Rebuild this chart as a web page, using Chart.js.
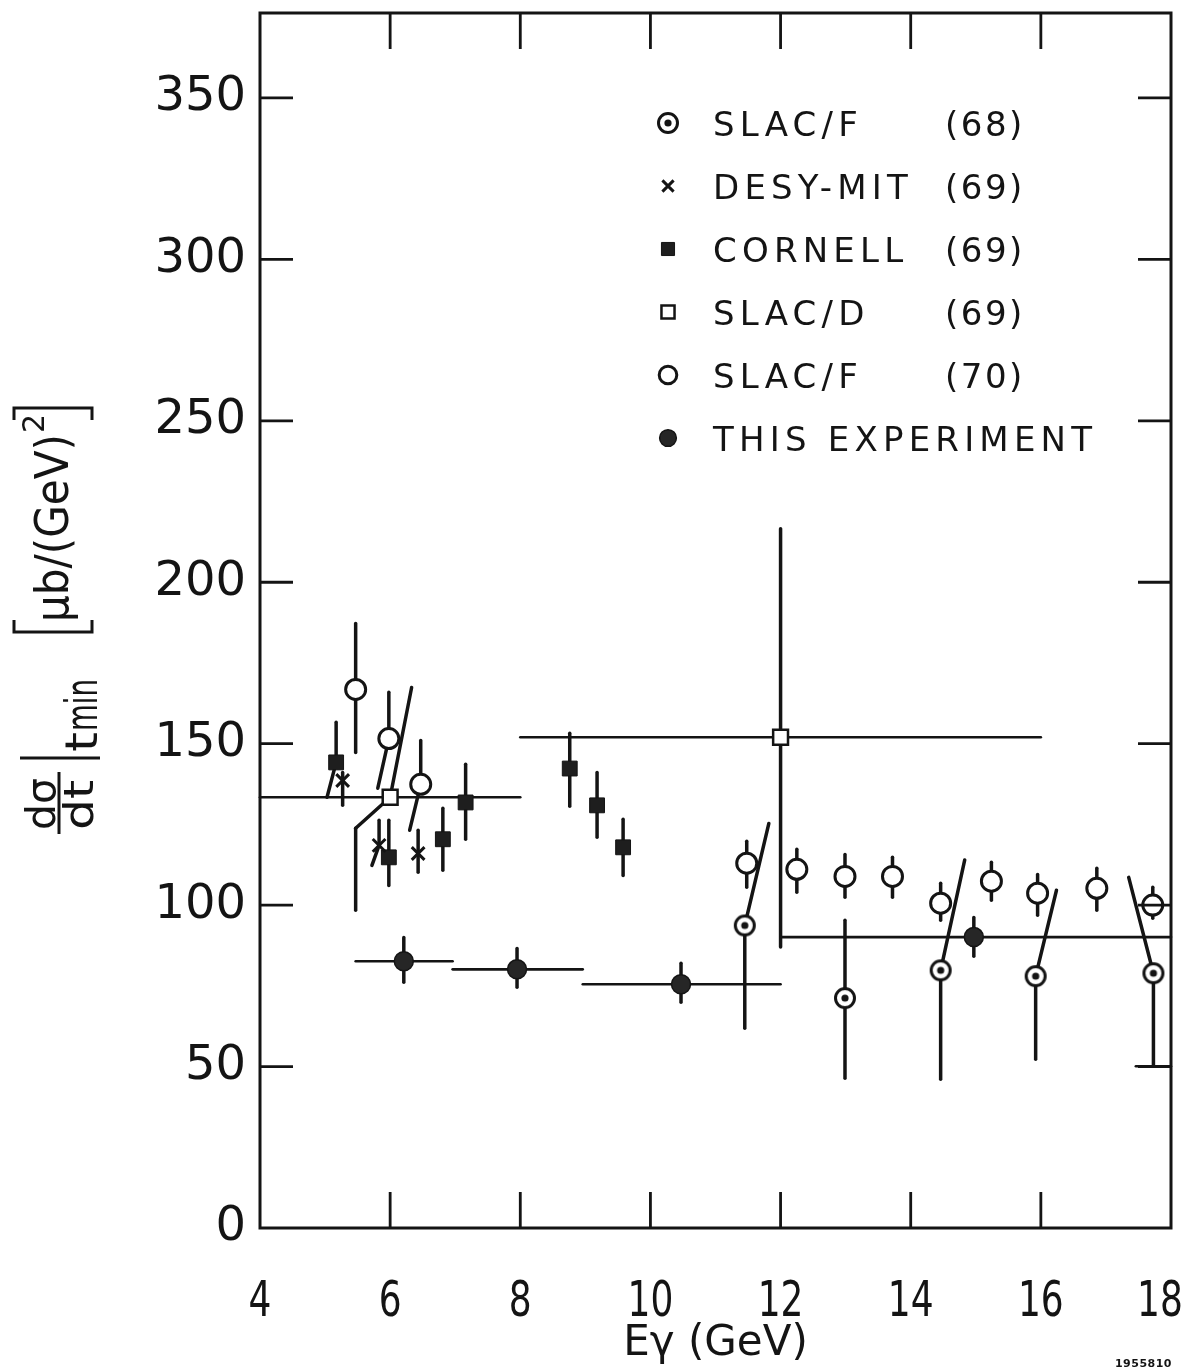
<!DOCTYPE html>
<html>
<head>
<meta charset="utf-8">
<title>dσ/dt at t_min vs Eγ</title>
<script src="https://cdn.jsdelivr.net/npm/chart.js@4.4.1/dist/chart.umd.min.js"></script>
<style>
  html, body { margin: 0; padding: 0; background: #fff; }
  #wrap { width: 1193px; height: 1371px; }
</style>
</head>
<body>
<div id="wrap"><canvas id="c" width="1193" height="1371"></canvas></div>
<script>
// Forward cross section dσ/dt at t_min versus photon energy, several experiments.

const xTicks = [4, 6, 8, 10, 12, 14, 16, 18];
const yTicks = [0, 50, 100, 150, 200, 250, 300, 350];

// SLAC/F (68): upper errors drawn as tilted strokes ending at slacF68HiE
const slacF68E = [11.45, 12.99, 14.46, 15.92, 17.73];
const slacF68V = [93.7, 71.2, 79.8, 78.0, 78.9];
const slacF68Hi = [125.3, 95.3, 114.0, 104.6, 108.6];
const slacF68HiE = [11.82, 12.99, 14.83, 16.24, 17.35];
const slacF68Lo = [61.9, 46.4, 46.1, 52.3, 50.1];
const slacF68CapFrom = [null, null, null, null, 17.46];
const slacF68CapTo = [null, null, null, null, 18.0];

// DESY-MIT (69)
const desyE = [5.27, 5.83, 6.43];
const desyV = [138.6, 118.5, 116.0];
const desyHi = [141.1, 126.3, 123.2];
const desyLo = [130.9, 112.3, 110.2];
const desyLoE = [5.27, 5.72, 6.43];

// CORNELL (69)
const cornellE = [5.17, 5.98, 6.81, 7.16, 8.76, 9.18, 9.58];
const cornellV = [144.2, 114.8, 120.4, 131.8, 142.3, 130.9, 117.9];
const cornellHi = [156.6, 126.3, 130.0, 143.6, 153.2, 141.1, 126.6];
const cornellLo = [133.4, 106.1, 110.8, 120.4, 130.6, 121.0, 109.2];
const cornellLoE = [5.03, 5.98, 6.81, 7.16, 8.76, 9.18, 9.58];

// SLAC/D (69): energy bins plus bent error strokes
const slacDE = [6.0, 12.0];
const slacDV = [133.4, 152.0];
const slacDEMin = [4.0, 8.0];
const slacDEMax = [8.0, 16.0];
const slacDHi = [167.4, 216.6];
const slacDHiE = [6.33, 12.0];
const slacDKneeE = [5.47, null];
const slacDKneeV = [123.8, null];
const slacDLo = [98.4, 87.0];
const slacDLoE = [5.47, 12.0];

// SLAC/F (70)
const slacF70E = [5.47, 5.98, 6.47, 11.48, 12.25, 12.99, 13.72, 14.46, 15.24, 15.95, 16.86, 17.72];
const slacF70V = [166.8, 151.6, 137.4, 113.0, 111.1, 108.9, 108.9, 100.6, 107.4, 103.7, 105.2, 100.0];
const slacF70Hi = [187.2, 165.9, 151.0, 119.8, 117.3, 115.7, 114.8, 106.8, 113.3, 109.5, 111.4, 105.5];
const slacF70Lo = [147.3, 136.2, 123.2, 105.5, 104.0, 102.4, 102.4, 95.3, 101.5, 96.9, 98.4, 95.9];
const slacF70LoE = [5.47, 5.81, 6.30, 11.48, 12.25, 12.99, 13.72, 14.46, 15.24, 15.95, 16.86, 17.72];

// This experiment: energy bins
const thisE = [6.21, 7.95, 10.47, 14.97];
const thisV = [82.6, 80.1, 75.5, 90.1];
const thisHi = [90.0, 86.6, 82.0, 96.2];
const thisLo = [76.1, 74.6, 69.9, 84.2];
const thisEMin = [5.47, 6.96, 8.96, 12.0];
const thisEMax = [6.96, 8.96, 12.0, 18.0];

const legendNames = ['SLAC/F', 'DESY-MIT', 'CORNELL', 'SLAC/D', 'SLAC/F', 'THIS EXPERIMENT'];
const legendYears = ['(68)', '(69)', '(69)', '(69)', '(70)', ''];

const INK = '#141414';
const FONT = '"DejaVu Sans", sans-serif';

const errorSets = [
  { e: slacF68E, v: slacF68V, hi: slacF68Hi, hiE: slacF68HiE, lo: slacF68Lo, capFrom: slacF68CapFrom, capTo: slacF68CapTo },
  { e: desyE, v: desyV, hi: desyHi, lo: desyLo, loE: desyLoE },
  { e: cornellE, v: cornellV, hi: cornellHi, lo: cornellLo, loE: cornellLoE },
  { e: slacDE, v: slacDV, hi: slacDHi, hiE: slacDHiE, lo: slacDLo, loE: slacDLoE, kneeE: slacDKneeE, kneeV: slacDKneeV, eMin: slacDEMin, eMax: slacDEMax },
  { e: slacF70E, v: slacF70V, hi: slacF70Hi, lo: slacF70Lo, loE: slacF70LoE },
  { e: thisE, v: thisV, hi: thisHi, lo: thisLo, eMin: thisEMin, eMax: thisEMax }
];

function ringDot() {
  const c = document.createElement('canvas');
  c.width = 28; c.height = 28;
  const g = c.getContext('2d');
  g.fillStyle = '#fff'; g.strokeStyle = INK; g.lineWidth = 3;
  g.beginPath(); g.arc(14, 14, 9.5, 0, Math.PI * 2); g.fill(); g.stroke();
  g.fillStyle = INK;
  g.beginPath(); g.arc(14, 14, 3.6, 0, Math.PI * 2); g.fill();
  return c;
}

const pts = (E, V) => E.map((e, i) => ({ x: e, y: V[i] }));

const errorBars = {
  id: 'errorBars',
  beforeDatasetsDraw(chart) {
    const { ctx, scales: { x, y } } = chart;
    const P = (e, v) => [x.getPixelForValue(e), y.getPixelForValue(v)];
    const seg = (a, b, w) => {
      ctx.lineWidth = w;
      ctx.beginPath(); ctx.moveTo(a[0], a[1]); ctx.lineTo(b[0], b[1]); ctx.stroke();
    };
    ctx.save();
    ctx.strokeStyle = INK; ctx.lineCap = 'round'; ctx.lineJoin = 'round';
    errorSets.forEach(s => {
      s.e.forEach((e, i) => {
        const c = P(e, s.v[i]);
        if (s.eMin) seg(P(s.eMin[i], s.v[i]), P(s.eMax[i], s.v[i]), 2.6);
        seg(c, P(s.hiE ? s.hiE[i] : e, s.hi[i]), 3.5);
        const lo = P(s.loE ? s.loE[i] : e, s.lo[i]);
        if (s.kneeE && s.kneeE[i] != null) {
          const k = P(s.kneeE[i], s.kneeV[i]);
          seg(c, k, 3.5); seg(k, lo, 3.5);
        } else {
          seg(c, lo, 3.5);
        }
        if (s.capFrom && s.capFrom[i] != null) seg(P(s.capFrom[i], s.lo[i]), P(s.capTo[i], s.lo[i]), 2.6);
      });
    });
    ctx.restore();
  }
};

const frameTicks = {
  id: 'frameTicks',
  afterDatasetsDraw(chart) {
    const { ctx, chartArea: a, scales: { x, y } } = chart;
    ctx.save();
    ctx.strokeStyle = INK; ctx.lineWidth = 3; ctx.lineCap = 'square';
    ctx.strokeRect(a.left, a.top, a.right - a.left, a.bottom - a.top);
    ctx.lineWidth = 2.8; ctx.lineCap = 'butt';
    ctx.beginPath();
    x.ticks.forEach(t => {
      if (t.value <= x.min || t.value >= x.max) return;
      const px = x.getPixelForValue(t.value);
      ctx.moveTo(px, a.top); ctx.lineTo(px, a.top + 36);
      ctx.moveTo(px, a.bottom); ctx.lineTo(px, a.bottom - 36);
    });
    y.ticks.forEach(t => {
      if (t.value <= y.min) return;
      const py = y.getPixelForValue(t.value);
      ctx.moveTo(a.left, py); ctx.lineTo(a.left + 33, py);
      ctx.moveTo(a.right, py); ctx.lineTo(a.right - 33, py);
    });
    ctx.stroke();
    ctx.restore();
  }
};

// narrow lettering for the energy tick labels
const energyLabels = {
  id: 'energyLabels',
  afterDraw(chart) {
    const { ctx, chartArea: a, scales: { x } } = chart;
    ctx.save();
    ctx.fillStyle = INK;
    ctx.font = '50px ' + FONT;
    ctx.textAlign = 'center'; ctx.textBaseline = 'alphabetic';
    x.ticks.forEach(t => {
      const px = Math.min(x.getPixelForValue(t.value), a.right - 11);
      ctx.save();
      ctx.translate(px, a.bottom + 88);
      ctx.scale(0.72, 1);
      ctx.fillText(String(t.value), 0, 0);
      ctx.restore();
    });
    ctx.restore();
  }
};

const keyBox = {
  id: 'keyBox',
  afterDraw(chart) {
    const { ctx } = chart;
    ctx.save();
    chart.data.datasets.forEach((ds, i) => {
      const cy = 123 + i * 63;
      ctx.fillStyle = ds.pointBackgroundColor || INK;
      ctx.strokeStyle = ds.pointBorderColor || INK;
      ctx.lineWidth = ds.pointBorderWidth || 1;
      Chart.helpers.drawPoint(ctx, {
        pointStyle: ds.pointStyle, radius: ds.pointRadius * 0.88,
        borderWidth: ds.pointBorderWidth || 0, rotation: 0
      }, 668, cy);
      ctx.fillStyle = INK;
      ctx.font = '34px ' + FONT;
      ctx.textAlign = 'left'; ctx.textBaseline = 'alphabetic';
      ctx.letterSpacing = '5.2px';
      ctx.fillText(legendNames[i], 713, cy + 13);
      ctx.letterSpacing = '2.5px';
      if (legendYears[i]) ctx.fillText(legendYears[i], 945, cy + 13);
      ctx.letterSpacing = '0px';
    });
    // drawing number
    ctx.font = 'bold 11px ' + FONT;
    ctx.textAlign = 'right';
    ctx.letterSpacing = '0.5px';
    ctx.fillText('1955810', 1172, 1367);
    ctx.restore();
  }
};

// vertical text helper: baseline at page x = bx, running upward from page y = by
function upText(ctx, text, bx, by, size, fitW) {
  ctx.save();
  ctx.translate(bx, by);
  ctx.rotate(-Math.PI / 2);
  ctx.font = size + 'px ' + FONT;
  ctx.textAlign = 'left'; ctx.textBaseline = 'alphabetic';
  if (fitW) ctx.scale(fitW / ctx.measureText(text).width, 1);
  ctx.fillText(text, 0, 0);
  ctx.restore();
}

const yTitle = {
  id: 'yTitle',
  afterDraw(chart) {
    const { ctx } = chart;
    ctx.save();
    ctx.fillStyle = INK; ctx.strokeStyle = INK; ctx.lineWidth = 3; ctx.lineCap = 'butt';
    // dσ / dt
    upText(ctx, 'dσ', 55, 830, 40, 52);
    upText(ctx, 'dt', 93, 830, 40, 50);
    ctx.beginPath(); ctx.moveTo(59, 834); ctx.lineTo(59, 772); ctx.stroke();
    // evaluation bar with t_min
    ctx.beginPath(); ctx.moveTo(20, 758); ctx.lineTo(100, 758); ctx.stroke();
    upText(ctx, 't', 97, 752, 44, 20);
    upText(ctx, 'min', 97, 731, 44, 52);
    // [ μb/(GeV)² ]
    ctx.beginPath();
    ctx.moveTo(14, 620); ctx.lineTo(14, 632); ctx.lineTo(92, 632); ctx.lineTo(92, 620);
    ctx.stroke();
    upText(ctx, 'μb/(GeV)', 68, 622, 46, 188);
    upText(ctx, '2', 44, 433, 30);
    ctx.beginPath();
    ctx.moveTo(14, 420); ctx.lineTo(14, 408); ctx.lineTo(92, 408); ctx.lineTo(92, 420);
    ctx.stroke();
    ctx.restore();
  }
};

new Chart(document.getElementById('c'), {
  type: 'scatter',
  data: {
    datasets: [
      { label: 'SLAC/F (68)', data: pts(slacF68E, slacF68V), pointStyle: ringDot(), pointRadius: 10,
        pointBackgroundColor: '#fff', pointBorderColor: INK, pointBorderWidth: 3 },
      { label: 'DESY-MIT (69)', data: pts(desyE, desyV), pointStyle: 'crossRot', pointRadius: 9,
        pointBackgroundColor: INK, pointBorderColor: INK, pointBorderWidth: 3 },
      { label: 'CORNELL (69)', data: pts(cornellE, cornellV), pointStyle: 'rect', pointRadius: 10.5,
        pointBackgroundColor: '#1e1e1e', pointBorderColor: INK, pointBorderWidth: 1 },
      { label: 'SLAC/D (69)', data: pts(slacDE, slacDV), pointStyle: 'rect', pointRadius: 10.5,
        pointBackgroundColor: '#fff', pointBorderColor: INK, pointBorderWidth: 2.5 },
      { label: 'SLAC/F (70)', data: pts(slacF70E, slacF70V), pointStyle: 'circle', pointRadius: 10,
        pointBackgroundColor: '#fff', pointBorderColor: INK, pointBorderWidth: 3 },
      { label: 'THIS EXPERIMENT', data: pts(thisE, thisV), pointStyle: 'circle', pointRadius: 9.5,
        pointBackgroundColor: '#262626', pointBorderColor: INK, pointBorderWidth: 1.5 }
    ].map(d => Object.assign({ showLine: false, pointHoverRadius: d.pointRadius }, d))
  },
  options: {
    responsive: false,
    animation: false,
    devicePixelRatio: 1,
    events: [],
    layout: { padding: { left: 0, right: 22, top: 12, bottom: 0 } },
    plugins: { legend: { display: false }, tooltip: { enabled: false } },
    scales: {
      x: {
        type: 'linear', min: xTicks[0], max: xTicks[xTicks.length - 1],
        afterFit: s => { s.height = 143; s.paddingLeft = 0; s.paddingRight = 0; },
        afterBuildTicks: s => { s.ticks = xTicks.map(v => ({ value: v })); },
        grid: { display: false, drawTicks: false },
        border: { display: false },
        ticks: { display: false },
        title: {
          display: true, text: 'Eγ (GeV)', color: INK,
          font: { family: '"DejaVu Sans"', size: 42 }, padding: { top: 0, bottom: 2 }
        }
      },
      y: {
        type: 'linear', min: 0, max: 376.3,
        afterFit: s => { s.width = 260; s.paddingTop = 0; s.paddingBottom = 0; },
        afterBuildTicks: s => { s.ticks = yTicks.map(v => ({ value: v })); },
        grid: { display: false, drawTicks: false },
        border: { display: false },
        ticks: { padding: 14, color: INK, autoSkip: false, font: { family: '"DejaVu Sans"', size: 48 } }
      }
    }
  },
  plugins: [errorBars, frameTicks, energyLabels, keyBox, yTitle]
});
</script>
</body>
</html>
